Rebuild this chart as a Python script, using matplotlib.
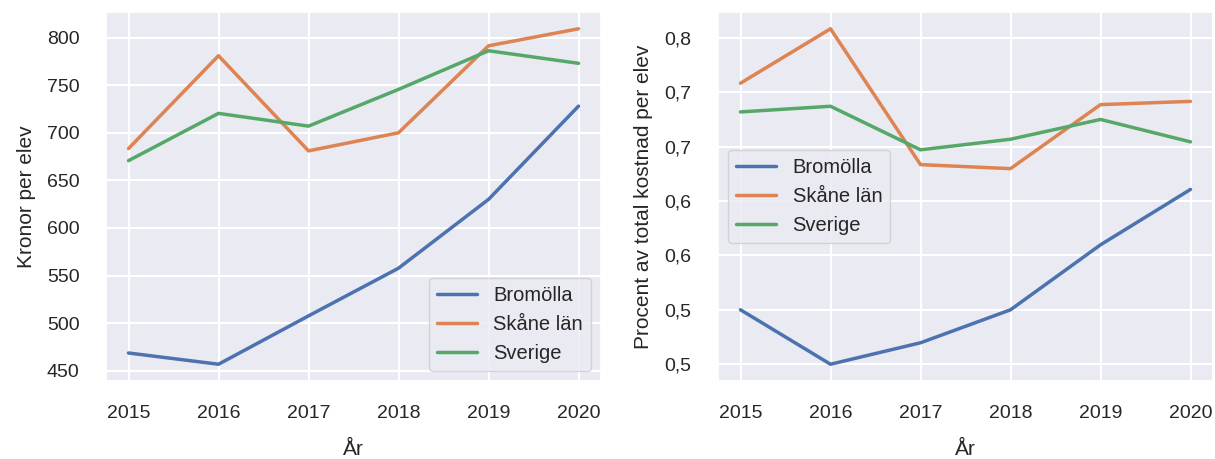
import matplotlib
matplotlib.use("Agg")
import matplotlib.pyplot as plt
import seaborn as sns

years = [2015, 2016, 2017, 2018, 2019, 2020]
series_names = ["Bromölla", "Skåne län", "Sverige"]

kronor_bromolla = [468.6, 456.8, 507.6, 557.7, 630.0, 728.0]
kronor_skane = [683.4, 781.0, 681.0, 700.0, 791.4, 809.3]
kronor_sverige = [670.7, 720.4, 707.0, 745.6, 786.2, 773.0]

procent_bromolla = [0.500, 0.450, 0.4697, 0.500, 0.5597, 0.6106]
procent_skane = [0.7082, 0.7582, 0.6334, 0.6297, 0.6885, 0.6915]
procent_sverige = [0.6818, 0.6870, 0.6470, 0.6567, 0.6749, 0.6543]

left_yticks = [450, 500, 550, 600, 650, 700, 750, 800]
right_yticks = [0.45, 0.50, 0.55, 0.60, 0.65, 0.70, 0.75]
right_yticklabels = ["0,5", "0,5", "0,6", "0,6", "0,7", "0,7", "0,8"]

sns.set_theme(style="darkgrid")
plt.rcParams["font.family"] = ["Liberation Sans", "DejaVu Sans"]
plt.rcParams["grid.linewidth"] = 1.5

fig = plt.figure(figsize=(12.15, 4.59), dpi=100)
ax1 = fig.add_axes([106/1215, 1 - 381/459, 495/1215, 369/459])
ax2 = fig.add_axes([718/1215, 1 - 381/459, 495/1215, 369/459])

colors = sns.color_palette()[:3]
lw = 2.5

for vals, name, c in zip([kronor_bromolla, kronor_skane, kronor_sverige], series_names, colors):
    ax1.plot(years, vals, color=c, lw=lw, label=name)
for vals, name, c in zip([procent_bromolla, procent_skane, procent_sverige], series_names, colors):
    ax2.plot(years, vals, color=c, lw=lw, label=name)

ax1.set_yticks(left_yticks)
ax2.set_yticks(right_yticks)
ax2.set_yticklabels(right_yticklabels)

for ax in (ax1, ax2):
    ax.set_xticks(years)
    ax.tick_params(axis="both", labelsize=14, colors="#262626", length=0)
    ax.tick_params(axis="x", pad=17)
    ax.tick_params(axis="y", pad=19)
    ax.set_xlabel("År", fontsize=15, color="#262626", labelpad=13)

ax1.set_ylabel("Kronor per elev", fontsize=15, color="#262626", labelpad=8)
ax2.set_ylabel("Procent av total kostnad per elev", fontsize=15, color="#262626", labelpad=8)

ax1.legend(loc="lower right", fontsize=14.5)
ax2.legend(loc="center left", fontsize=14.5)

fig.savefig("out.png", dpi=100)
